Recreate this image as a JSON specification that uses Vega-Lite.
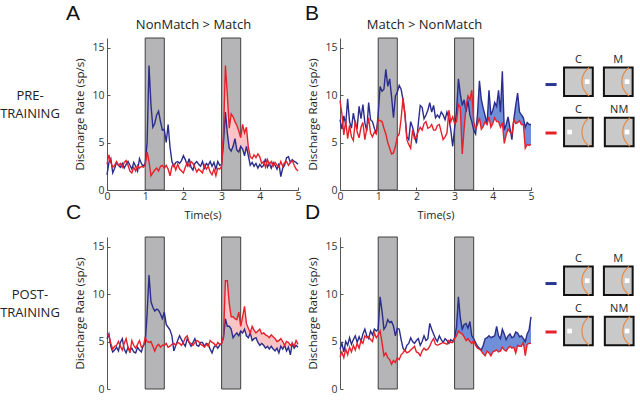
{
"$schema":"https://vega.github.io/schema/vega-lite/v6.json",
"padding":{"left":0,"top":3,"right":0,"bottom":0},
"bounds":"flush",
"columns":7,
"spacing":{"row":47,"column":0},
"config":{"view":{"stroke":null},"font":"Open Sans","axis":{"grid":false,"labelFlush":false,"domainColor":"#555","tickColor":"#555","labelColor":"#333","titleColor":"#222","titleFontWeight":"normal","labelFont":"Open Sans","titleFont":"Open Sans"},"title":{"font":"Liberation Sans","fontWeight":"normal","fontSize":21,"color":"#111","anchor":"start","frame":"bounds"}},
"datasets":{
"none":[],
"bands":[{"s":1,"e":1.5},{"s":3,"e":3.5}],
"dash":[{"x1":7,"x2":19,"y":49,"c":"blue"},{"x1":7,"x2":19,"y":100,"c":"red"}],
"sq":[{"x1":27,"x2":58,"y1":31,"y2":61,"lab":"C","lx":42.5,"ly":23,"wx":52,"wy":46},{"x1":70,"x2":101,"y1":31,"y2":61,"lab":"M","lx":85.5,"ly":23,"wx":95,"wy":46},{"x1":27,"x2":58,"y1":84,"y2":114,"lab":"C","lx":42.5,"ly":76,"wx":33,"wy":99},{"x1":71,"x2":102,"y1":84,"y2":114,"lab":"NM","lx":86.5,"ly":76,"wx":95,"wy":99}],
"arc":[
{"k":1,"ax":54,"ay":31},{"k":1,"ax":50.8,"ay":34},{"k":1,"ax":48.7,"ay":37},{"k":1,"ax":47.3,"ay":40},{"k":1,"ax":46.6,"ay":43},{"k":1,"ax":46.3,"ay":46},{"k":1,"ax":46.6,"ay":49},{"k":1,"ax":47.3,"ay":52},{"k":1,"ax":48.7,"ay":55},{"k":1,"ax":50.8,"ay":58},{"k":1,"ax":54,"ay":61},
{"k":2,"ax":97,"ay":31},{"k":2,"ax":93.8,"ay":34},{"k":2,"ax":91.7,"ay":37},{"k":2,"ax":90.3,"ay":40},{"k":2,"ax":89.6,"ay":43},{"k":2,"ax":89.3,"ay":46},{"k":2,"ax":89.6,"ay":49},{"k":2,"ax":90.3,"ay":52},{"k":2,"ax":91.7,"ay":55},{"k":2,"ax":93.8,"ay":58},{"k":2,"ax":97,"ay":61},
{"k":3,"ax":54,"ay":84},{"k":3,"ax":50.8,"ay":87},{"k":3,"ax":48.7,"ay":90},{"k":3,"ax":47.3,"ay":93},{"k":3,"ax":46.6,"ay":96},{"k":3,"ax":46.3,"ay":99},{"k":3,"ax":46.6,"ay":102},{"k":3,"ax":47.3,"ay":105},{"k":3,"ax":48.7,"ay":108},{"k":3,"ax":50.8,"ay":111},{"k":3,"ax":54,"ay":114},
{"k":4,"ax":98,"ay":84},{"k":4,"ax":94.8,"ay":87},{"k":4,"ax":92.7,"ay":90},{"k":4,"ax":91.3,"ay":93},{"k":4,"ax":90.6,"ay":96},{"k":4,"ax":90.3,"ay":99},{"k":4,"ax":90.6,"ay":102},{"k":4,"ax":91.3,"ay":105},{"k":4,"ax":92.7,"ay":108},{"k":4,"ax":94.8,"ay":111},{"k":4,"ax":98,"ay":114}],
"ts":[
{"t":0,"ab":1.6,"ar":2.7,"bb":7.4,"br":9.4,"cb":5.3,"cr":5.8,"db":4.2,"dr":3.4},
{"t":0.05,"ab":2.9,"ar":3.7,"bb":6.4,"br":8.0,"cb":5.8,"cr":5.6,"db":4.8,"dr":3.9},
{"t":0.1,"ab":3.3,"ar":2.9,"bb":7.8,"br":5.8,"cb":4.5,"cr":4.8,"db":3.9,"dr":3.3},
{"t":0.15,"ab":1.8,"ar":2.4,"bb":6.9,"br":7.3,"cb":3.9,"cr":4.2,"db":5.0,"dr":4.2},
{"t":0.2,"ab":2.3,"ar":2.6,"bb":9.6,"br":5.4,"cb":4.1,"cr":4.5,"db":4.6,"dr":3.6},
{"t":0.25,"ab":2.9,"ar":3.0,"bb":7.2,"br":6.8,"cb":4.4,"cr":4.6,"db":5.4,"dr":4.4},
{"t":0.3,"ab":2.6,"ar":2.6,"bb":6.5,"br":5.6,"cb":4.0,"cr":5.0,"db":4.7,"dr":3.9},
{"t":0.35,"ab":2.4,"ar":2.8,"bb":8.1,"br":5.2,"cb":4.9,"cr":4.5,"db":5.2,"dr":4.6},
{"t":0.4,"ab":2.8,"ar":2.4,"bb":7.0,"br":7.3,"cb":5.3,"cr":4.1,"db":5.6,"dr":4.1},
{"t":0.45,"ab":2.3,"ar":2.9,"bb":6.6,"br":6.1,"cb":4.2,"cr":4.8,"db":4.9,"dr":4.8},
{"t":0.5,"ab":2.7,"ar":3.1,"bb":8.8,"br":5.5,"cb":3.8,"cr":5.3,"db":5.5,"dr":4.3},
{"t":0.55,"ab":3.0,"ar":2.6,"bb":7.5,"br":6.6,"cb":4.4,"cr":4.4,"db":5.0,"dr":5.1},
{"t":0.6,"ab":2.6,"ar":2.0,"bb":9.0,"br":7.1,"cb":4.1,"cr":3.8,"db":5.8,"dr":4.8},
{"t":0.65,"ab":2.2,"ar":1.8,"bb":7.1,"br":5.3,"cb":4.3,"cr":5.1,"db":6.3,"dr":5.6},
{"t":0.7,"ab":2.9,"ar":2.4,"bb":6.2,"br":6.4,"cb":3.9,"cr":4.6,"db":5.6,"dr":5.4},
{"t":0.75,"ab":2.5,"ar":2.0,"bb":9.2,"br":7.6,"cb":3.8,"cr":4.3,"db":5.3,"dr":5.5},
{"t":0.8,"ab":2.0,"ar":2.6,"bb":7.4,"br":6.0,"cb":4.4,"cr":4.7,"db":6.1,"dr":5.2},
{"t":0.85,"ab":3.3,"ar":2.3,"bb":7.2,"br":5.6,"cb":4.1,"cr":5.1,"db":5.7,"dr":5.0},
{"t":0.9,"ab":2.8,"ar":2.5,"bb":6.5,"br":6.1,"cb":3.9,"cr":4.4,"db":6.3,"dr":5.9},
{"t":0.95,"ab":2.5,"ar":2.4,"bb":5.9,"br":5.9,"cb":4.6,"cr":4.5,"db":6.1,"dr":5.4},
{"t":1.0,"ab":2.8,"ar":2.6,"bb":8.0,"br":7.4,"cb":4.8,"cr":5.4,"db":6.3,"dr":5.7},
{"t":1.05,"ab":5.0,"ar":4.0,"bb":10.9,"br":7.3,"cb":7.9,"cr":5.0,"db":9.7,"dr":6.1},
{"t":1.1,"ab":13.1,"ar":3.0,"bb":10.4,"br":7.2,"cb":12.0,"cr":4.9,"db":8.2,"dr":4.9},
{"t":1.15,"ab":9.0,"ar":1.5,"bb":10.6,"br":6.5,"cb":9.2,"cr":5.0,"db":6.3,"dr":3.5},
{"t":1.2,"ab":6.6,"ar":1.8,"bb":12.7,"br":5.9,"cb":8.6,"cr":4.5,"db":6.6,"dr":3.8},
{"t":1.25,"ab":7.0,"ar":2.1,"bb":10.9,"br":5.0,"cb":8.2,"cr":4.0,"db":7.3,"dr":3.3},
{"t":1.3,"ab":7.9,"ar":2.3,"bb":11.7,"br":4.4,"cb":8.4,"cr":4.5,"db":7.0,"dr":3.1},
{"t":1.35,"ab":8.3,"ar":2.0,"bb":9.8,"br":3.8,"cb":8.3,"cr":4.7,"db":7.1,"dr":2.6},
{"t":1.4,"ab":7.2,"ar":2.5,"bb":7.6,"br":3.9,"cb":7.9,"cr":4.4,"db":6.6,"dr":3.0},
{"t":1.45,"ab":6.3,"ar":2.6,"bb":9.9,"br":4.6,"cb":7.4,"cr":4.6,"db":5.6,"dr":2.8},
{"t":1.5,"ab":6.4,"ar":2.3,"bb":10.3,"br":5.6,"cb":8.1,"cr":4.6,"db":6.4,"dr":3.3},
{"t":1.55,"ab":5.0,"ar":2.6,"bb":11.0,"br":5.9,"cb":6.8,"cr":4.8,"db":6.3,"dr":3.1},
{"t":1.6,"ab":6.9,"ar":2.2,"bb":10.6,"br":7.5,"cb":6.5,"cr":4.4,"db":5.2,"dr":3.6},
{"t":1.65,"ab":4.5,"ar":1.5,"bb":9.5,"br":9.7,"cb":6.2,"cr":4.5,"db":4.3,"dr":3.8},
{"t":1.7,"ab":3.0,"ar":2.5,"bb":8.0,"br":7.9,"cb":5.6,"cr":4.7,"db":4.0,"dr":4.1},
{"t":1.75,"ab":2.5,"ar":2.7,"bb":5.6,"br":5.3,"cb":4.0,"cr":4.8,"db":4.6,"dr":3.8},
{"t":1.8,"ab":2.9,"ar":2.1,"bb":5.3,"br":4.8,"cb":4.6,"cr":4.6,"db":4.8,"dr":3.9},
{"t":1.85,"ab":3.0,"ar":2.7,"bb":7.2,"br":4.4,"cb":5.1,"cr":4.9,"db":5.4,"dr":4.1},
{"t":1.9,"ab":2.8,"ar":2.2,"bb":6.6,"br":6.3,"cb":5.6,"cr":4.8,"db":5.0,"dr":4.3},
{"t":1.95,"ab":3.1,"ar":2.0,"bb":5.8,"br":5.4,"cb":5.2,"cr":4.6,"db":4.8,"dr":4.5},
{"t":2.0,"ab":3.6,"ar":1.8,"bb":4.9,"br":5.6,"cb":4.8,"cr":4.9,"db":5.1,"dr":3.9},
{"t":2.05,"ab":3.2,"ar":2.4,"bb":7.0,"br":6.2,"cb":4.5,"cr":5.4,"db":5.3,"dr":3.8},
{"t":2.1,"ab":2.6,"ar":2.9,"bb":8.9,"br":6.6,"cb":5.3,"cr":5.6,"db":4.6,"dr":3.5},
{"t":2.15,"ab":3.3,"ar":2.5,"bb":8.7,"br":6.3,"cb":4.9,"cr":4.9,"db":5.0,"dr":4.0},
{"t":2.2,"ab":2.4,"ar":3.0,"bb":7.5,"br":7.0,"cb":4.5,"cr":4.8,"db":5.6,"dr":4.3},
{"t":2.25,"ab":2.1,"ar":2.8,"bb":7.9,"br":7.2,"cb":4.9,"cr":4.6,"db":5.1,"dr":4.1},
{"t":2.3,"ab":2.8,"ar":2.4,"bb":8.4,"br":6.5,"cb":5.3,"cr":4.9,"db":5.3,"dr":4.2},
{"t":2.35,"ab":3.0,"ar":1.9,"bb":9.2,"br":6.6,"cb":4.6,"cr":5.1,"db":6.9,"dr":4.5},
{"t":2.4,"ab":2.7,"ar":2.2,"bb":8.2,"br":6.9,"cb":4.5,"cr":5.0,"db":6.3,"dr":5.0},
{"t":2.45,"ab":2.5,"ar":2.0,"bb":8.9,"br":6.3,"cb":4.9,"cr":4.7,"db":5.8,"dr":5.3},
{"t":2.5,"ab":3.0,"ar":1.8,"bb":7.6,"br":6.3,"cb":4.9,"cr":4.6,"db":5.3,"dr":4.7},
{"t":2.55,"ab":2.3,"ar":2.6,"bb":7.9,"br":6.8,"cb":4.5,"cr":4.4,"db":5.0,"dr":4.6},
{"t":2.6,"ab":2.8,"ar":2.2,"bb":7.6,"br":6.9,"cb":4.8,"cr":4.7,"db":5.6,"dr":4.7},
{"t":2.65,"ab":2.6,"ar":2.5,"bb":8.2,"br":6.1,"cb":4.7,"cr":4.5,"db":5.2,"dr":4.8},
{"t":2.7,"ab":3.0,"ar":1.9,"bb":7.9,"br":5.3,"cb":4.2,"cr":5.1,"db":4.9,"dr":4.9},
{"t":2.75,"ab":2.5,"ar":1.6,"bb":7.4,"br":5.6,"cb":3.8,"cr":4.9,"db":5.3,"dr":4.8},
{"t":2.8,"ab":2.9,"ar":2.2,"bb":8.2,"br":6.0,"cb":4.4,"cr":4.8,"db":5.1,"dr":4.7},
{"t":2.85,"ab":2.2,"ar":1.5,"bb":7.6,"br":8.4,"cb":4.6,"cr":4.5,"db":4.8,"dr":5.1},
{"t":2.9,"ab":3.0,"ar":2.3,"bb":6.3,"br":7.2,"cb":4.3,"cr":4.9,"db":5.2,"dr":4.9},
{"t":2.95,"ab":2.6,"ar":2.2,"bb":4.6,"br":7.7,"cb":4.6,"cr":4.7,"db":5.0,"dr":4.9},
{"t":3.0,"ab":2.7,"ar":2.5,"bb":6.5,"br":7.0,"cb":4.8,"cr":4.8,"db":5.4,"dr":5.3},
{"t":3.05,"ab":5.0,"ar":6.0,"bb":8.2,"br":7.2,"cb":5.4,"cr":5.6,"db":6.5,"dr":5.6},
{"t":3.1,"ab":8.2,"ar":13.1,"bb":11.7,"br":9.0,"cb":7.4,"cr":11.4,"db":9.7,"dr":6.1},
{"t":3.15,"ab":6.0,"ar":10.0,"bb":10.1,"br":8.7,"cb":6.6,"cr":11.4,"db":7.5,"dr":5.9},
{"t":3.2,"ab":4.4,"ar":6.5,"bb":8.9,"br":3.8,"cb":6.6,"cr":9.0,"db":6.3,"dr":5.8},
{"t":3.25,"ab":4.1,"ar":8.0,"bb":9.5,"br":6.5,"cb":6.3,"cr":7.6,"db":6.8,"dr":5.5},
{"t":3.3,"ab":4.6,"ar":7.7,"bb":8.2,"br":8.8,"cb":5.4,"cr":7.6,"db":6.9,"dr":5.1},
{"t":3.35,"ab":5.4,"ar":7.2,"bb":9.4,"br":9.9,"cb":5.7,"cr":7.4,"db":6.4,"dr":5.3},
{"t":3.4,"ab":4.2,"ar":6.8,"bb":7.9,"br":9.5,"cb":5.9,"cr":7.3,"db":7.1,"dr":5.0},
{"t":3.45,"ab":4.0,"ar":6.2,"bb":7.2,"br":10.5,"cb":5.6,"cr":8.1,"db":5.6,"dr":4.8},
{"t":3.5,"ab":4.6,"ar":5.5,"bb":6.3,"br":7.2,"cb":6.1,"cr":6.6,"db":5.3,"dr":5.1},
{"t":3.55,"ab":4.3,"ar":6.9,"bb":5.9,"br":6.4,"cb":5.9,"cr":7.6,"db":4.9,"dr":4.6},
{"t":3.6,"ab":3.6,"ar":6.0,"bb":8.0,"br":6.9,"cb":6.3,"cr":8.7,"db":4.5,"dr":4.3},
{"t":3.65,"ab":4.6,"ar":6.6,"bb":11.5,"br":7.6,"cb":5.6,"cr":6.9,"db":4.3,"dr":4.2},
{"t":3.7,"ab":3.6,"ar":4.5,"bb":9.5,"br":6.4,"cb":5.4,"cr":6.4,"db":4.1,"dr":4.0},
{"t":3.75,"ab":2.6,"ar":3.5,"bb":8.6,"br":6.7,"cb":5.9,"cr":5.9,"db":4.6,"dr":3.7},
{"t":3.8,"ab":2.9,"ar":3.3,"bb":7.8,"br":7.2,"cb":5.1,"cr":6.6,"db":5.3,"dr":3.5},
{"t":3.85,"ab":2.5,"ar":3.7,"bb":6.9,"br":6.9,"cb":5.3,"cr":6.2,"db":5.4,"dr":4.0},
{"t":3.9,"ab":2.8,"ar":3.4,"bb":10.5,"br":7.7,"cb":5.4,"cr":5.9,"db":5.6,"dr":3.8},
{"t":3.95,"ab":2.3,"ar":3.8,"bb":7.9,"br":6.6,"cb":4.9,"cr":6.1,"db":5.4,"dr":3.5},
{"t":4.0,"ab":2.7,"ar":3.5,"bb":8.4,"br":7.0,"cb":4.6,"cr":6.3,"db":5.5,"dr":3.9},
{"t":4.05,"ab":2.4,"ar":2.8,"bb":9.2,"br":7.6,"cb":4.8,"cr":5.8,"db":5.6,"dr":4.0},
{"t":4.1,"ab":2.6,"ar":3.0,"bb":8.8,"br":7.2,"cb":4.6,"cr":5.9,"db":6.6,"dr":4.1},
{"t":4.15,"ab":3.3,"ar":2.4,"bb":10.5,"br":7.2,"cb":4.3,"cr":5.7,"db":5.6,"dr":3.9},
{"t":4.2,"ab":2.4,"ar":3.2,"bb":8.2,"br":6.6,"cb":4.5,"cr":5.6,"db":5.3,"dr":4.0},
{"t":4.25,"ab":2.8,"ar":2.7,"bb":12.5,"br":7.1,"cb":4.2,"cr":5.4,"db":6.3,"dr":4.4},
{"t":4.3,"ab":2.3,"ar":3.0,"bb":6.3,"br":4.9,"cb":4.5,"cr":5.7,"db":5.8,"dr":4.1},
{"t":4.35,"ab":2.9,"ar":2.5,"bb":6.9,"br":5.8,"cb":4.2,"cr":5.5,"db":5.2,"dr":4.0},
{"t":4.4,"ab":2.6,"ar":2.9,"bb":7.7,"br":6.4,"cb":4.0,"cr":5.3,"db":5.6,"dr":4.3},
{"t":4.45,"ab":2.2,"ar":2.6,"bb":6.5,"br":6.1,"cb":4.3,"cr":5.0,"db":5.8,"dr":4.5},
{"t":4.5,"ab":2.8,"ar":2.4,"bb":5.3,"br":5.9,"cb":3.8,"cr":5.1,"db":5.4,"dr":4.3},
{"t":4.55,"ab":1.4,"ar":3.0,"bb":7.4,"br":7.4,"cb":4.5,"cr":5.3,"db":5.5,"dr":4.4},
{"t":4.6,"ab":2.3,"ar":2.5,"bb":8.9,"br":7.0,"cb":4.2,"cr":5.0,"db":6.0,"dr":3.8},
{"t":4.65,"ab":2.6,"ar":2.9,"bb":10.2,"br":7.1,"cb":4.6,"cr":4.6,"db":5.9,"dr":4.6},
{"t":4.7,"ab":3.4,"ar":3.0,"bb":8.2,"br":7.3,"cb":4.0,"cr":5.0,"db":5.5,"dr":4.5},
{"t":4.75,"ab":3.5,"ar":2.6,"bb":7.9,"br":6.9,"cb":4.4,"cr":4.9,"db":5.6,"dr":4.5},
{"t":4.8,"ab":2.9,"ar":2.9,"bb":7.6,"br":6.9,"cb":3.6,"cr":4.6,"db":5.3,"dr":4.9},
{"t":4.85,"ab":3.2,"ar":3.1,"bb":6.6,"br":4.4,"cb":4.8,"cr":4.8,"db":5.0,"dr":3.5},
{"t":4.9,"ab":3.0,"ar":2.6,"bb":7.1,"br":4.8,"cb":4.3,"cr":4.5,"db":5.8,"dr":4.7},
{"t":4.95,"ab":2.9,"ar":2.2,"bb":6.9,"br":4.7,"cb":4.6,"cr":5.1,"db":6.2,"dr":4.8},
{"t":5.0,"ab":2.7,"ar":2.0,"bb":6.9,"br":4.8,"cb":4.4,"cr":4.7,"db":7.6,"dr":4.8}
]},
"concat":[
  {"width":58,"height":152,"data":{"values":[{"lab":"PRE-\nTRAINING","pos":58}]},"mark":{"type":"text","lineBreak":"\n","fontSize":13,"color":"#222","lineHeight":18,"font":"Open Sans","baseline":"middle"},"encoding":{"text":{"field":"lab"},"y":{"field":"pos","type":"quantitative","scale":{"domain":[0,152],"reverse":true},"axis":null}}},
  {"width":48,"height":152,"data":{"name":"none"},"mark":"point"},
  {"width":191,"height":152,"title":{"text":"A","offset":-6,"dx":-9},"data":{"name":"ts"},"resolve":{"axis":{"x":"independent"}},"layer":[
   {"data":{"name":"bands"},"mark":{"type":"rect","fill":"#b5b5b7","stroke":"#404040","strokeWidth":1},"encoding":{"x":{"field":"s","type":"quantitative","scale":{"domain":[0,5]},"axis":null},"x2":{"field":"e"}}},
   {"transform":[{"filter":"datum.t>=3 && datum.t<=3.75"}],"mark":{"type":"area","color":"#f9c4c6","opacity":1},"encoding":{"x":{"field":"t","type":"quantitative","axis":null},"y":{"field":"ar","type":"quantitative","scale":{"domain":[0,15]},"axis":{"title":"Discharge Rate (sp/s)","values":[0,5,10,15],"format":"d","tickSize":-3,"labelPadding":6,"titlePadding":6,"labelFontSize":10.5,"titleFontSize":11.5}},"y2":{"field":"ab"}}},
   {"mark":{"type":"line","color":"#2a2d8c","strokeWidth":1.4},"encoding":{"x":{"field":"t","type":"quantitative","axis":{"orient":"bottom","title":"Time(s)","values":[0,1,2,3,4,5],"format":"d","tickSize":-3,"labelPadding":4,"titlePadding":8,"labelFontSize":10.5,"titleFontSize":11}},"y":{"field":"ab","type":"quantitative","axis":{"title":"Discharge Rate (sp/s)","values":[0,5,10,15],"format":"d","tickSize":-3,"labelPadding":6,"titlePadding":6,"labelFontSize":10.5,"titleFontSize":11.5}}}},
   {"mark":{"type":"line","color":"#e8202a","strokeWidth":1.4},"encoding":{"x":{"field":"t","type":"quantitative","axis":{"orient":"top","title":"NonMatch > Match","labels":false,"ticks":false,"domain":false,"titlePadding":7,"titleFontSize":13,"titleX":86}},"y":{"field":"ar","type":"quantitative","axis":{"title":"Discharge Rate (sp/s)","values":[0,5,10,15],"format":"d","tickSize":-3,"labelPadding":6,"titlePadding":6,"labelFontSize":10.5,"titleFontSize":11.5}}}}
  ]},
  {"width":42,"height":152,"data":{"name":"none"},"mark":"point"},
  {"width":191,"height":152,"title":{"text":"B","offset":-6,"dx":-3},"data":{"name":"ts"},"resolve":{"axis":{"x":"independent"}},"layer":[
   {"data":{"name":"bands"},"mark":{"type":"rect","fill":"#b5b5b7","stroke":"#404040","strokeWidth":1},"encoding":{"x":{"field":"s","type":"quantitative","scale":{"domain":[0,5]},"axis":null},"x2":{"field":"e"}}},
   {"transform":[{"filter":"datum.t>=3"}],"mark":{"type":"area","color":"#6f8fd8","opacity":1},"encoding":{"x":{"field":"t","type":"quantitative","axis":null},"y":{"field":"bb","type":"quantitative","scale":{"domain":[0,15]},"axis":{"title":"Discharge Rate (sp/s)","values":[0,5,10,15],"format":"d","tickSize":-3,"labelPadding":6,"titlePadding":6,"labelFontSize":10.5,"titleFontSize":11.5}},"y2":{"field":"br"}}},
   {"mark":{"type":"line","color":"#2a2d8c","strokeWidth":1.4},"encoding":{"x":{"field":"t","type":"quantitative","axis":{"orient":"bottom","title":"Time(s)","values":[0,1,2,3,4,5],"format":"d","tickSize":-3,"labelPadding":4,"titlePadding":8,"labelFontSize":10.5,"titleFontSize":11}},"y":{"field":"bb","type":"quantitative","axis":{"title":"Discharge Rate (sp/s)","values":[0,5,10,15],"format":"d","tickSize":-3,"labelPadding":6,"titlePadding":6,"labelFontSize":10.5,"titleFontSize":11.5}}}},
   {"mark":{"type":"line","color":"#e8202a","strokeWidth":1.4},"encoding":{"x":{"field":"t","type":"quantitative","axis":{"orient":"top","title":"Match > NonMatch","labels":false,"ticks":false,"domain":false,"titlePadding":7,"titleFontSize":13,"titleX":84}},"y":{"field":"br","type":"quantitative","axis":{"title":"Discharge Rate (sp/s)","values":[0,5,10,15],"format":"d","tickSize":-3,"labelPadding":6,"titlePadding":6,"labelFontSize":10.5,"titleFontSize":11.5}}}}
  ]},
  {"width":8,"height":152,"data":{"name":"none"},"mark":"point"},
  {"width":102,"height":152,"layer":[
   {"data":{"name":"dash"},"mark":{"type":"rule","strokeWidth":3},"encoding":{"x":{"field":"x1","type":"quantitative","scale":{"domain":[0,102]},"axis":null},"x2":{"field":"x2"},"y":{"field":"y","type":"quantitative","scale":{"domain":[0,152],"reverse":true},"axis":null},"color":{"field":"c","type":"nominal","scale":{"domain":["blue","red"],"range":["#2b3594","#e8202a"]},"legend":null}}},
   {"data":{"name":"sq"},"mark":{"type":"rect","fill":"#c9c9c9","stroke":"#111","strokeWidth":2},"encoding":{"x":{"field":"x1","type":"quantitative","axis":null},"x2":{"field":"x2"},"y":{"field":"y1","type":"quantitative","axis":null},"y2":{"field":"y2"}}},
   {"data":{"name":"arc"},"mark":{"type":"line","color":"#e38b47","strokeWidth":1.2},"encoding":{"x":{"field":"ax","type":"quantitative","axis":null},"y":{"field":"ay","type":"quantitative","axis":null},"detail":{"field":"k"},"order":{"field":"ay","type":"quantitative"}}},
   {"data":{"name":"sq"},"mark":{"type":"square","filled":true,"color":"#ffffff","size":22,"opacity":1},"encoding":{"x":{"field":"wx","type":"quantitative","axis":null},"y":{"field":"wy","type":"quantitative","axis":null}}},
   {"data":{"name":"sq"},"mark":{"type":"text","fontSize":11,"color":"#222","font":"Open Sans"},"encoding":{"x":{"field":"lx","type":"quantitative","axis":null},"y":{"field":"ly","type":"quantitative","axis":null},"text":{"field":"lab"}}}
  ]},
  {"width":58,"height":152,"data":{"values":[{"lab":"POST-\nTRAINING","pos":58}]},"mark":{"type":"text","lineBreak":"\n","fontSize":13,"color":"#222","lineHeight":18,"font":"Open Sans","baseline":"middle"},"encoding":{"text":{"field":"lab"},"y":{"field":"pos","type":"quantitative","scale":{"domain":[0,152],"reverse":true},"axis":null}}},
  {"width":48,"height":152,"data":{"name":"none"},"mark":"point"},
  {"width":191,"height":152,"title":{"text":"C","offset":14,"dx":-9},"data":{"name":"ts"},"layer":[
   {"data":{"name":"bands"},"mark":{"type":"rect","fill":"#b5b5b7","stroke":"#404040","strokeWidth":1},"encoding":{"x":{"field":"s","type":"quantitative","scale":{"domain":[0,5]},"axis":null},"x2":{"field":"e"}}},
   {"transform":[{"filter":"datum.t>=3 && datum.t<=4.8"}],"mark":{"type":"area","color":"#f9c4c6","opacity":1},"encoding":{"x":{"field":"t","type":"quantitative"},"y":{"field":"cr","type":"quantitative","scale":{"domain":[0,15]},"axis":{"title":"Discharge Rate (sp/s)","values":[0,5,10,15],"format":"d","tickSize":-3,"labelPadding":6,"titlePadding":6,"labelFontSize":10.5,"titleFontSize":11.5}},"y2":{"field":"cb"}}},
   {"mark":{"type":"line","color":"#2a2d8c","strokeWidth":1.4},"encoding":{"x":{"field":"t","type":"quantitative","axis":{"orient":"bottom","title":"Time(s)","values":[0,1,2,3,4,5],"format":"d","tickSize":-3,"labelPadding":4,"titlePadding":8,"labelFontSize":10.5,"titleFontSize":11}},"y":{"field":"cb","type":"quantitative","axis":{"title":"Discharge Rate (sp/s)","values":[0,5,10,15],"format":"d","tickSize":-3,"labelPadding":6,"titlePadding":6,"labelFontSize":10.5,"titleFontSize":11.5}}}},
   {"mark":{"type":"line","color":"#e8202a","strokeWidth":1.4},"encoding":{"x":{"field":"t","type":"quantitative"},"y":{"field":"cr","type":"quantitative","axis":{"title":"Discharge Rate (sp/s)","values":[0,5,10,15],"format":"d","tickSize":-3,"labelPadding":6,"titlePadding":6,"labelFontSize":10.5,"titleFontSize":11.5}}}}
  ]},
  {"width":42,"height":152,"data":{"name":"none"},"mark":"point"},
  {"width":191,"height":152,"title":{"text":"D","offset":14,"dx":-3},"data":{"name":"ts"},"layer":[
   {"data":{"name":"bands"},"mark":{"type":"rect","fill":"#b5b5b7","stroke":"#404040","strokeWidth":1},"encoding":{"x":{"field":"s","type":"quantitative","scale":{"domain":[0,5]},"axis":null},"x2":{"field":"e"}}},
   {"transform":[{"filter":"datum.t>=3"}],"mark":{"type":"area","color":"#6f8fd8","opacity":1},"encoding":{"x":{"field":"t","type":"quantitative"},"y":{"field":"db","type":"quantitative","scale":{"domain":[0,15]},"axis":{"title":"Discharge Rate (sp/s)","values":[0,5,10,15],"format":"d","tickSize":-3,"labelPadding":6,"titlePadding":6,"labelFontSize":10.5,"titleFontSize":11.5}},"y2":{"field":"dr"}}},
   {"mark":{"type":"line","color":"#2a2d8c","strokeWidth":1.4},"encoding":{"x":{"field":"t","type":"quantitative","axis":{"orient":"bottom","title":"Time(s)","values":[0,1,2,3,4,5],"format":"d","tickSize":-3,"labelPadding":4,"titlePadding":8,"labelFontSize":10.5,"titleFontSize":11}},"y":{"field":"db","type":"quantitative","axis":{"title":"Discharge Rate (sp/s)","values":[0,5,10,15],"format":"d","tickSize":-3,"labelPadding":6,"titlePadding":6,"labelFontSize":10.5,"titleFontSize":11.5}}}},
   {"mark":{"type":"line","color":"#e8202a","strokeWidth":1.4},"encoding":{"x":{"field":"t","type":"quantitative"},"y":{"field":"dr","type":"quantitative","axis":{"title":"Discharge Rate (sp/s)","values":[0,5,10,15],"format":"d","tickSize":-3,"labelPadding":6,"titlePadding":6,"labelFontSize":10.5,"titleFontSize":11.5}}}}
  ]},
  {"width":8,"height":152,"data":{"name":"none"},"mark":"point"},
  {"width":102,"height":152,"layer":[
   {"data":{"name":"dash"},"mark":{"type":"rule","strokeWidth":3},"encoding":{"x":{"field":"x1","type":"quantitative","scale":{"domain":[0,102]},"axis":null},"x2":{"field":"x2"},"y":{"field":"y","type":"quantitative","scale":{"domain":[4,156],"reverse":true},"axis":null},"color":{"field":"c","type":"nominal","scale":{"domain":["blue","red"],"range":["#2b3594","#e8202a"]},"legend":null}}},
   {"data":{"name":"sq"},"mark":{"type":"rect","fill":"#c9c9c9","stroke":"#111","strokeWidth":2},"encoding":{"x":{"field":"x1","type":"quantitative","axis":null},"x2":{"field":"x2"},"y":{"field":"y1","type":"quantitative","axis":null},"y2":{"field":"y2"}}},
   {"data":{"name":"arc"},"mark":{"type":"line","color":"#e38b47","strokeWidth":1.2},"encoding":{"x":{"field":"ax","type":"quantitative","axis":null},"y":{"field":"ay","type":"quantitative","axis":null},"detail":{"field":"k"},"order":{"field":"ay","type":"quantitative"}}},
   {"data":{"name":"sq"},"mark":{"type":"square","filled":true,"color":"#ffffff","size":22,"opacity":1},"encoding":{"x":{"field":"wx","type":"quantitative","axis":null},"y":{"field":"wy","type":"quantitative","axis":null}}},
   {"data":{"name":"sq"},"mark":{"type":"text","fontSize":11,"color":"#222","font":"Open Sans"},"encoding":{"x":{"field":"lx","type":"quantitative","axis":null},"y":{"field":"ly","type":"quantitative","axis":null},"text":{"field":"lab"}}}
  ]}
]
}
